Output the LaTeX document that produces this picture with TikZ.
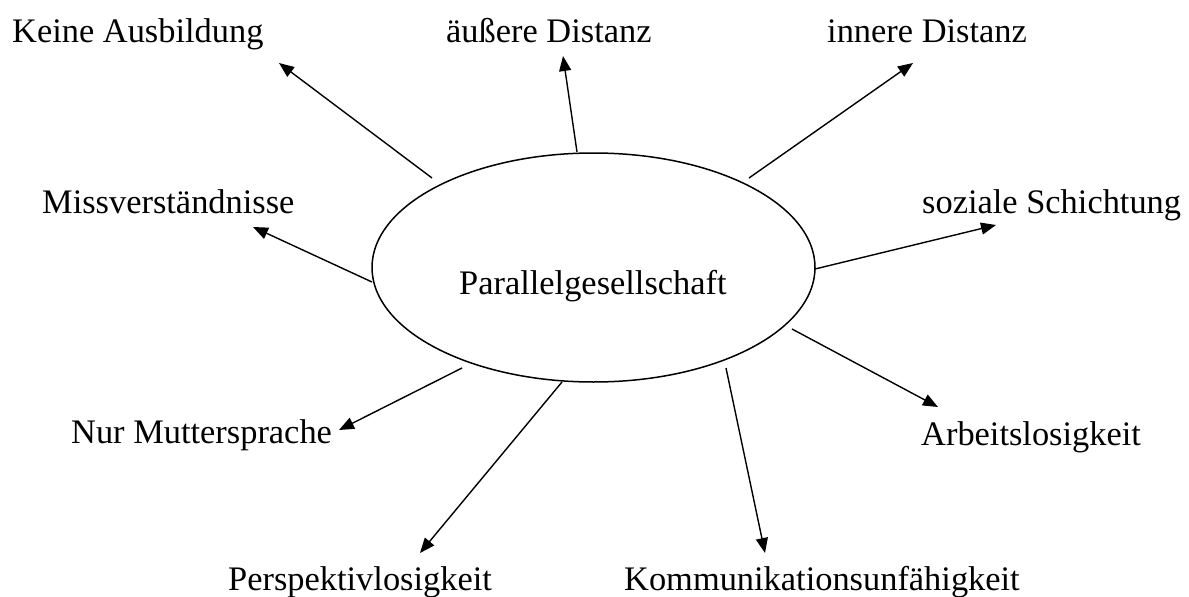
\documentclass[tikz,border=0pt]{standalone}
\usepackage{fontspec}
\setmainfont{Liberation Serif}
\usetikzlibrary{shapes.geometric,arrows.meta}
\begin{document}
\begin{tikzpicture}[x=1pt,y=-1pt,
  lbl/.style={anchor=base west,inner sep=0pt,font=\fontsize{34.4}{40}\selectfont},
  conn/.style={line width=1.4pt,-{Triangle[length=15pt,width=12pt]}},
  oval/.style={draw,ellipse,line width=1.5pt,minimum width=443pt,minimum height=229pt,inner sep=0pt}]
\useasboundingbox (0,0) rectangle (1189,597);
% centre
\node[oval] (ov) at (593.5,267.5) {};
\node[lbl] (par) at (459,294) {Parallelgesellschaft};
% labels
\node[lbl] (ka) at (12,42) {Keine Ausbildung};
\node[lbl] (ad) at (446,42) {äußere Distanz};
\node[lbl] (id) at (827,42) {innere Distanz};
\node[lbl] (mv) at (42,213) {Missverständnisse};
\node[lbl] (ss) at (922,213) {soziale Schichtung};
\node[lbl] (nm) at (71,443) {Nur Muttersprache};
\node[lbl] (al) at (921,445) {Arbeitslosigkeit};
\node[lbl] (pl) at (228,590) {Perspektivlosigkeit};
\node[lbl] (ku) at (624,590) {Kommunikationsunfähigkeit};
% connector ends
\coordinate (s1) at (432,178); \coordinate (e1) at (279,63);
\coordinate (s2) at (577,152); \coordinate (e2) at (563,56);
\coordinate (s3) at (749,178); \coordinate (e3) at (913,63);
\coordinate (s4) at (372,282); \coordinate (e4) at (253,227);
\coordinate (s5) at (815,269); \coordinate (e5) at (996,225);
\coordinate (s6) at (792,329); \coordinate (e6) at (938,407);
\coordinate (s7) at (726,368); \coordinate (e7) at (765,553);
\coordinate (s8) at (562,382); \coordinate (e8) at (420,553);
\coordinate (s9) at (462,368); \coordinate (e9) at (339,430);
\foreach \i in {1,...,9} {\draw[conn] (s\i) -- (e\i);}
\end{tikzpicture}
\end{document}
